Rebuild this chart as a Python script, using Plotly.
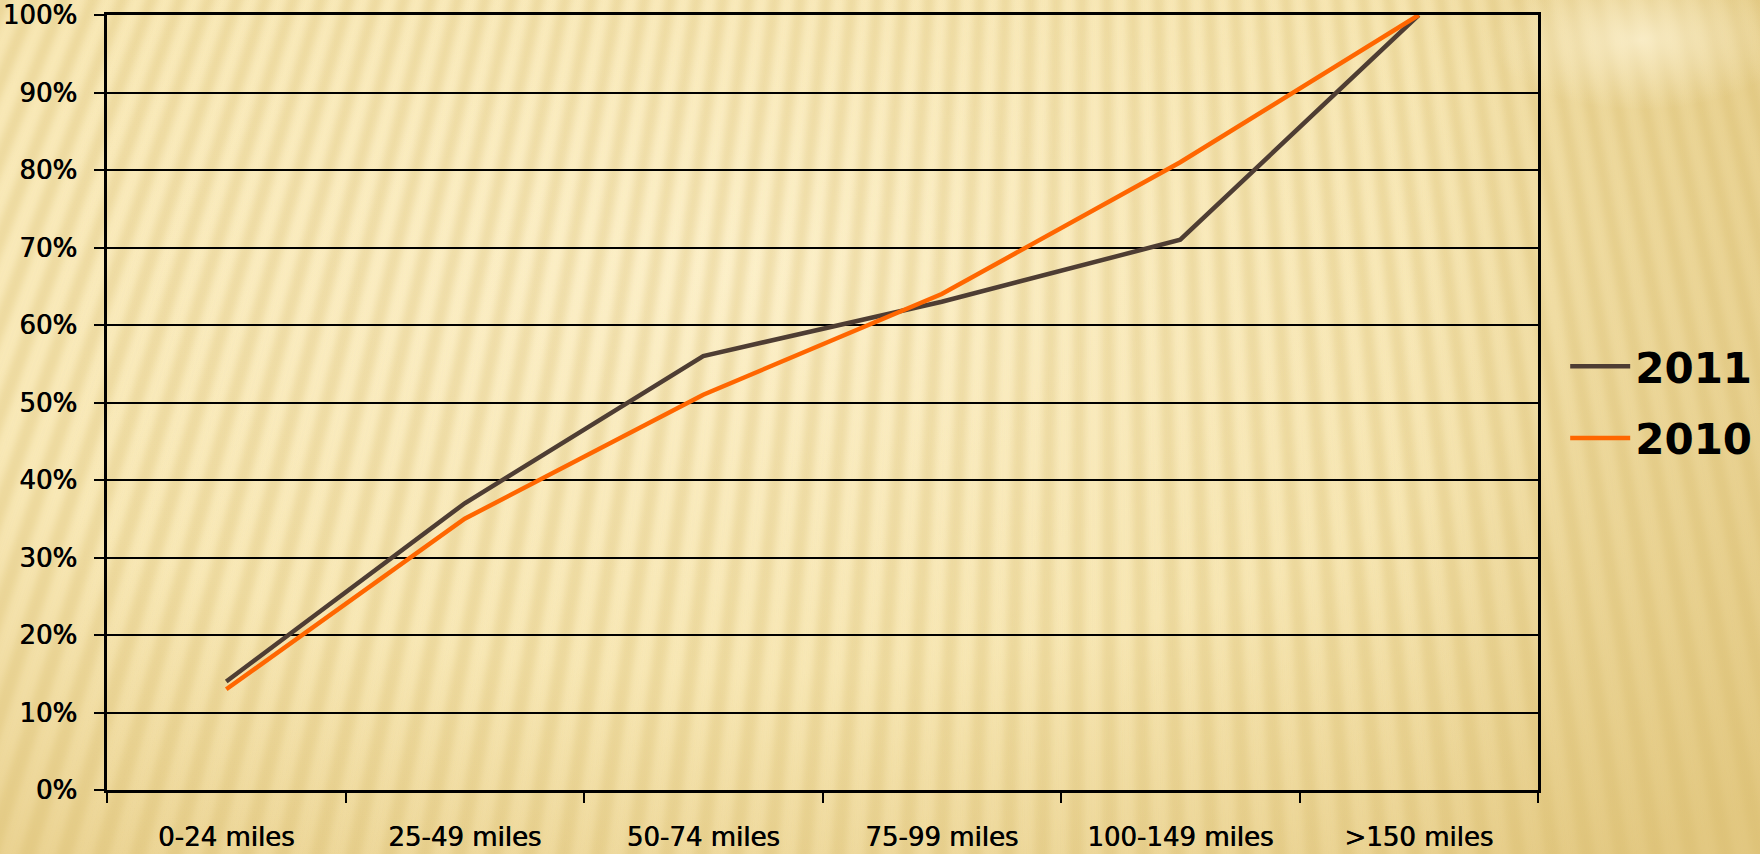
import base64
import math
import plotly.graph_objects as go

categories = ["0-24 miles", "25-49 miles", "50-74 miles", "75-99 miles", "100-149 miles", ">150 miles"]
values_2011 = [0.14, 0.37, 0.56, 0.63, 0.71, 1.00]
values_2010 = [0.13, 0.35, 0.51, 0.64, 0.81, 1.00]
y_ticks = [0, 0.1, 0.2, 0.3, 0.4, 0.5, 0.6, 0.7, 0.8, 0.9, 1.0]

W, H = 1760, 854
ML, MR, MT, MB = 107, 222, 15, 64
PW, PH = W - ML - MR, H - MT - MB

# ---- decorative striped background (SVG texture) ----
apex_x, apex_y = 1100, -2600
rays = []
a = -0.46
step = 0.0098
while a < 0.30:
    a2 = a + step * 0.45
    L = 4200
    x1 = apex_x + L * math.sin(a)
    y1 = apex_y + L * math.cos(a)
    x2 = apex_x + L * math.sin(a2)
    y2 = apex_y + L * math.cos(a2)
    rays.append(f'<polygon points="{apex_x},{apex_y} {x1:.1f},{y1:.1f} {x2:.1f},{y2:.1f}"/>')
    a += step

svg = f'''<svg xmlns="http://www.w3.org/2000/svg" width="{W}" height="{H}" viewBox="0 0 {W} {H}">
<defs>
<radialGradient id="rg" cx="0.42" cy="0.32" r="0.85">
<stop offset="0" stop-color="#FDF1CC"/>
<stop offset="0.55" stop-color="#F8E8B6"/>
<stop offset="1" stop-color="#E8CF8C"/>
</radialGradient>
<linearGradient id="lg" x1="0" y1="0" x2="1" y2="0">
<stop offset="0" stop-color="#D9BC6E" stop-opacity="0"/>
<stop offset="0.80" stop-color="#D9BC6E" stop-opacity="0.05"/>
<stop offset="0.90" stop-color="#D9BC6E" stop-opacity="0.30"/>
<stop offset="1" stop-color="#D9BC6E" stop-opacity="0.40"/>
</linearGradient>
<radialGradient id="flare" cx="0.5" cy="0.5" r="0.5">
<stop offset="0" stop-color="#FFF6DA" stop-opacity="0.7"/>
<stop offset="1" stop-color="#FFF6DA" stop-opacity="0"/>
</radialGradient>
<filter id="bl"><feGaussianBlur stdDeviation="3.5"/></filter>
</defs>
<rect width="{W}" height="{H}" fill="url(#rg)"/>
<g fill="#D2B262" fill-opacity="0.28" filter="url(#bl)">{''.join(rays)}</g>
<rect width="{W}" height="{H}" fill="url(#lg)"/>
<ellipse cx="1640" cy="40" rx="150" ry="70" fill="url(#flare)"/>
</svg>'''
bg_uri = "data:image/svg+xml;base64," + base64.b64encode(svg.encode()).decode()

fig = go.Figure()
fig.add_trace(go.Scatter(x=categories, y=values_2011, mode="lines", name="2011",
                         legendgroup="a", line=dict(color="#4E3D33", width=4.5)))
fig.add_trace(go.Scatter(x=categories, y=values_2010, mode="lines", name="2010",
                         legendgroup="b", line=dict(color="#FF6600", width=4.5)))

tick_font = dict(family="DejaVu Sans", size=26, color="#000000",
                 shadow="0.6px 0px 0px #000000")

fig.add_layout_image(dict(source=bg_uri, xref="paper", yref="paper",
                          x=-ML / PW, y=1 + MT / PH, sizex=W / PW, sizey=H / PH,
                          xanchor="left", yanchor="top", sizing="stretch",
                          layer="below", opacity=1))

fig.update_layout(
    width=W, height=H,
    margin=dict(l=ML, r=MR, t=MT, b=MB, autoexpand=False),
    paper_bgcolor="#F4E2AA",
    plot_bgcolor="rgba(0,0,0,0)",
    showlegend=True,
    legend=dict(x=1.019, y=0.5, xanchor="left", yanchor="middle",
                font=dict(family="DejaVu Sans", size=42, color="#000000", weight="bold"),
                bgcolor="rgba(0,0,0,0)", tracegroupgap=14, itemwidth=60),
    xaxis=dict(type="category", categoryorder="array", categoryarray=categories,
               range=[-0.5, 5.5], tickson="boundaries", ticks="outside", ticklen=10,
               tickwidth=2, tickcolor="#000000", showline=True, linecolor="#000000",
               linewidth=2.5, showgrid=False, zeroline=False, mirror=True,
               tickfont=tick_font, ticklabelstandoff=22, automargin=False),
    yaxis=dict(range=[0, 1], tickvals=y_ticks, tickformat=".0%", ticks="outside",
               ticklen=10, tickwidth=2, tickcolor="#000000", showline=True,
               linecolor="#000000", linewidth=2.5, mirror=True, showgrid=True,
               gridcolor="#000000", gridwidth=1.5, zeroline=False,
               tickfont=tick_font, ticklabelstandoff=12, automargin=False),
)

fig.write_html("out.html", config={"displayModeBar": False},
               post_script="document.body.style.margin='0';document.body.style.overflow='hidden';")
